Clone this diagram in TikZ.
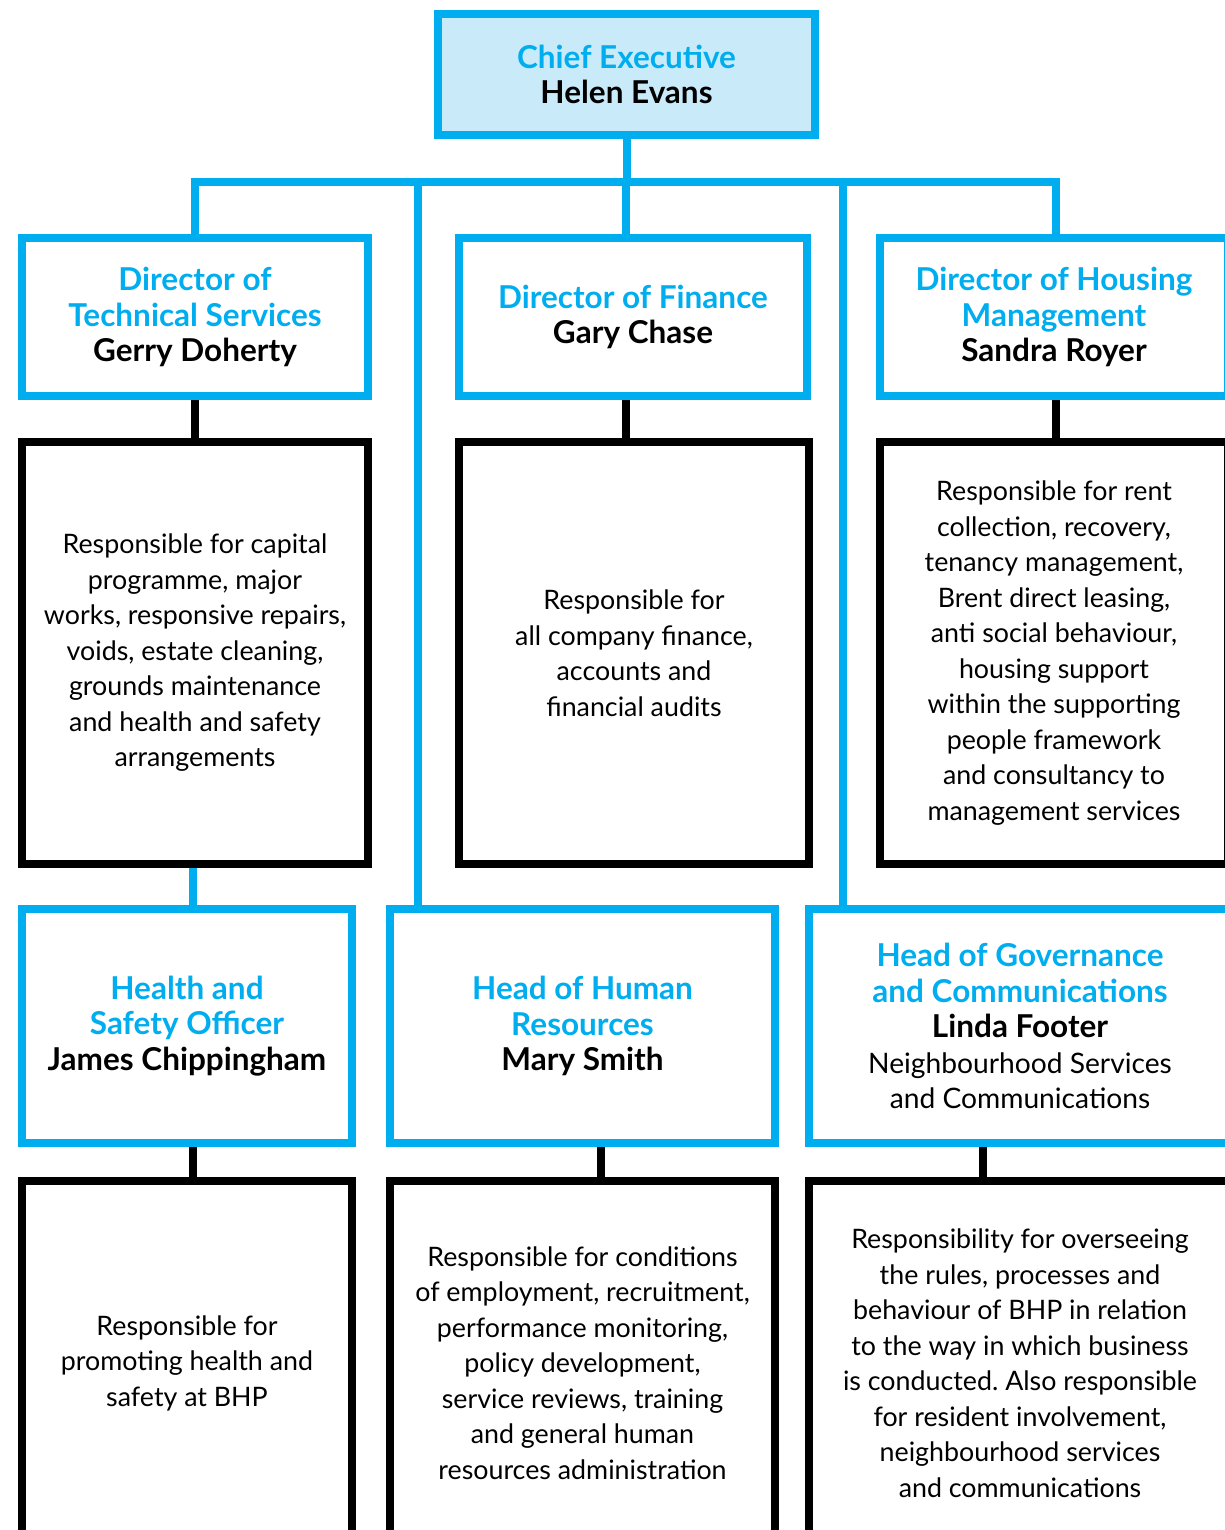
\documentclass[tikz,border=0pt]{standalone}
\usepackage{fontspec}
\setmainfont{Lato}
\usetikzlibrary{backgrounds}

\definecolor{bhpblue}{HTML}{00AEEF}
\definecolor{bhplight}{HTML}{C8EAF9}

\newcommand{\ttl}[1]{\textcolor{bhpblue}{\bfseries #1}}
\newcommand{\who}[1]{\textbf{#1}}
\newcommand{\unit}[1]{{\fontsize{28.2}{35.5}\selectfont #1}}

\begin{document}
\frenchspacing
\begin{tikzpicture}[x=1pt,y=-1pt,
  post/.style={draw=bhpblue,line width=8pt,fill=white,align=center,inner sep=0pt,
    font=\fontsize{31.5}{35.5}\selectfont},
  duty/.style={draw=black,line width=8pt,fill=white,align=center,inner sep=0pt,
    font=\fontsize{26.8}{35.5}\selectfont},
  bluelink/.style={draw=bhpblue,line width=8pt},
  blacklink/.style={draw=black,line width=8pt}]

\useasboundingbox (0,0) rectangle (1224,1530);

\node[post,fill=bhplight,minimum width=377pt,minimum height=121pt] (ceo) at (626.5,74.5)
  {\ttl{Chief Executive}\\\who{Helen Evans}};

% directors
\node[post,minimum width=346pt,minimum height=158pt] (tech) at (195,317)
  {\ttl{Director of}\\\ttl{Technical Services}\\\who{Gerry Doherty}};
\node[post,minimum width=348pt,minimum height=158pt] (fin) at (633,317)
  {\ttl{Director of Finance}\\\who{Gary Chase}};
\node[post,minimum width=348pt,minimum height=158pt] (housing) at (1054,317)
  {\ttl{Director of Housing}\\\ttl{Management}\\\who{Sandra Royer}};

\node[duty,minimum width=346pt,minimum height=422pt] (techjob) at (195,653)
  {Responsible for capital\\programme, major\\works, responsive repairs,\\voids, estate cleaning,\\grounds maintenance\\and health and safety\\arrangements};
\node[duty,minimum width=350pt,minimum height=422pt] (finjob) at (634,653)
  {Responsible for\\all company finance,\\accounts and\\financial audits};
\node[duty,minimum width=348pt,minimum height=422pt] (housingjob) at (1054,653)
  {Responsible for rent\\collection, recovery,\\tenancy management,\\Brent direct leasing,\\anti social behaviour,\\housing support\\within the supporting\\people framework\\and consultancy to\\management services};

% heads
\node[post,minimum width=330pt,minimum height=234pt] (hs) at (187,1026)
  {\ttl{Health and}\\\ttl{Safety Officer}\\\who{James Chippingham}};
\node[post,minimum width=385pt,minimum height=234pt] (hr) at (582.5,1026)
  {\ttl{Head of Human}\\\ttl{Resources}\\\who{Mary Smith}};
\node[post,minimum width=422pt,minimum height=234pt] (gov) at (1020,1026)
  {\ttl{Head of Governance}\\\ttl{and Communications}\\\who{Linda Footer}\\\unit{Neighbourhood Services}\\\unit{and Communications}};

\node[duty,minimum width=330pt,minimum height=364pt] (hsjob) at (187,1363)
  {Responsible for\\promoting health and\\safety at BHP};
\node[duty,minimum width=385pt,minimum height=364pt] (hrjob) at (582.5,1363)
  {Responsible for conditions\\of employment, recruitment,\\performance monitoring,\\policy development,\\service reviews, training\\and general human\\resources administration};
\node[duty,minimum width=422pt,minimum height=364pt] (govjob) at (1020,1363)
  {Responsibility for overseeing\\the rules, processes and\\behaviour of BHP in relation\\to the way in which business\\is conducted. Also responsible\\for resident involvement,\\neighbourhood services\\and communications};

\coordinate (bar) at (626,182);
\coordinate (lspine) at (418,182);
\coordinate (rspine) at (843,182);

\begin{scope}[on background layer]
\draw[bluelink] (ceo.south) -- (ceo.south |- bar);
\draw[bluelink] (tech.north) |- ([xshift=2pt]housing.north |- bar) -- ([xshift=2pt]housing.north);
\draw[bluelink] (bar) -- (fin.north -| bar);
\draw[bluelink] (lspine) -- (lspine |- hr.north);
\draw[bluelink] (rspine) -- (rspine |- gov.north);
\draw[bluelink] ([xshift=-2pt]techjob.south) -- ([xshift=-2pt]techjob.south |- hs.north);

\foreach \a/\b/\s in {tech/techjob/0,fin/finjob/-7,housing/housingjob/2,hs/hsjob/6,hr/hrjob/18.5,gov/govjob/-37}{
    \draw[blacklink] ([xshift=\s pt]\a.south) -- ([xshift=\s pt]\a.south |- \b.north);
}
\end{scope}

\end{tikzpicture}
\end{document}
